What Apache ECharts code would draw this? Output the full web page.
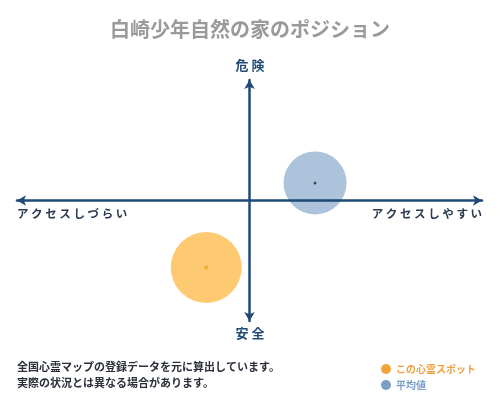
<!DOCTYPE html>
<html><head><meta charset="utf-8">
<script src="https://cdn.jsdelivr.net/npm/echarts@6/dist/echarts.min.js"></script>
<style>html,body{margin:0;padding:0;background:#fff}#c{width:500px;height:400px}</style>
</head><body><div id="c"></div>
<script>
const titleText = '白崎少年自然の家のポジション';
const axisLabels = { top: '危 険', bottom: '安 全', left: 'アクセスしづらい', right: 'アクセスしやすい' };
const seriesNames = ['この心霊スポット', '平均値'];
const spotPoint = [-1.86, -5.56];
const avgPoint = [2.82, 1.46];
const spotSize = 71;
const avgSize = 63;
const noteLines = ['全国心霊マップの登録データを元に算出しています。', '実際の状況とは異なる場合があります。'];

const FONT = '"Noto Sans CJK JP", sans-serif';
const NAVY = '#1f4a75';
const chart = echarts.init(document.getElementById('c'));
chart.setOption({
  animation: false,
  title: { text: titleText, left: 'center', top: 14, textStyle: { fontFamily: FONT, fontSize: 20, fontWeight: 'bold', color: '#9a9a9a' } },
  grid: { left: 17, right: 18, top: 80, bottom: 79 },
  xAxis: { type: 'value', min: -10, max: 10, z: 5,
    axisLine: { onZero: true, symbol: ['arrow', 'arrow'], symbolSize: [8, 9], lineStyle: { color: NAVY, width: 2.5 } },
    axisTick: { show: false }, axisLabel: { show: false }, splitLine: { show: false } },
  yAxis: { type: 'value', min: -10, max: 10, z: 5,
    axisLine: { onZero: true, symbol: ['arrow', 'arrow'], symbolSize: [8, 9], lineStyle: { color: NAVY, width: 2.5 } },
    axisTick: { show: false }, axisLabel: { show: false }, splitLine: { show: false } },
  legend: {
    orient: 'vertical', left: 376, top: 359, itemWidth: 10, itemHeight: 10, itemGap: 6, icon: 'circle',
    textStyle: { fontFamily: FONT, fontSize: 10, fontWeight: 'bold' },
    data: [
      { name: seriesNames[0], itemStyle: { color: '#f2a33a' }, textStyle: { color: '#f0a040' } },
      { name: seriesNames[1], itemStyle: { color: '#7b9ec4' }, textStyle: { color: '#7b9ec4' } }
    ]
  },
  series: [
    { name: seriesNames[0], type: 'scatter', symbolSize: spotSize, data: [spotPoint], itemStyle: { color: '#fdca71', opacity: 1 }, z: 2 },
    { name: seriesNames[1], type: 'scatter', symbolSize: avgSize, data: [avgPoint], itemStyle: { color: '#adc2db', opacity: 1 }, z: 2 },
    { name: 'dot1', type: 'scatter', symbolSize: 4, data: [spotPoint], itemStyle: { color: '#f0a020' }, z: 3 },
    { name: 'dot2', type: 'scatter', symbolSize: 3, data: [avgPoint], itemStyle: { color: '#1f2f45' }, z: 3 }
  ],
  graphic: [
    { type: 'text', left: 'center', top: 59, style: { text: axisLabels.top, font: 'bold 13px ' + FONT, fill: NAVY } },
    { type: 'text', left: 'center', top: 327, style: { text: axisLabels.bottom, font: 'bold 13px ' + FONT, fill: NAVY } },
    { type: 'text', left: 17, top: 208, style: { text: axisLabels.left.split('').join(' '), font: 'bold 11.5px ' + FONT, fill: '#2a3a50' } },
    { type: 'text', right: 18, top: 208, style: { text: axisLabels.right.split('').join(' '), font: 'bold 11.5px ' + FONT, fill: '#2a3a50' } },
    { type: 'text', left: 17, top: 359, style: { text: noteLines.join('\n'), font: 'bold 11px ' + FONT, fill: '#2a2f3a', lineHeight: 16 } }
  ]
});
</script></body></html>
